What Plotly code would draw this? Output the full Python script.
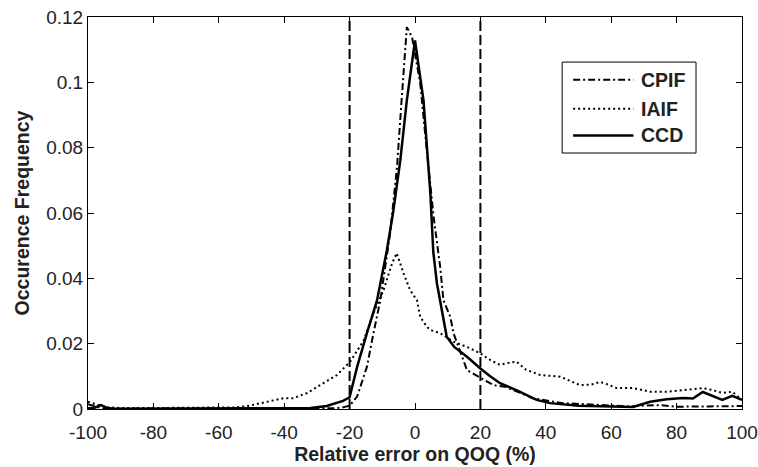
import plotly.graph_objects as go

# Relative error on QOQ (%) and occurrence frequency for each method
ccd_x = [-100, -98, -96, -94, -92, -80, -60, -40, -32, -27, -22, -20, -17.7, -14.7, -11.6, -8.6, -6.6, -4.5,
         -2.5, 0, 2.6, 4.7, 5.6, 6.7, 9.7, 12, 15.9, 19.9, 23, 26, 31, 37.2, 41.3, 50, 60, 66.7, 71.9, 77,
         82, 85, 88, 91, 94, 97, 100]
ccd_y = [0.0002, 0.0004, 0.0012, 0.0003, 0.0001, 0.0001, 0.0001, 0.0001, 0.0003, 0.0009, 0.0025, 0.0036, 0.0129,
         0.0232, 0.0333, 0.0486, 0.0608, 0.0761, 0.0945, 0.1128, 0.0945, 0.0660, 0.0480, 0.0385, 0.0221, 0.0190,
         0.0160, 0.0125, 0.0100, 0.0079, 0.0058, 0.0028, 0.0018, 0.0010, 0.0007, 0.0006, 0.0022, 0.0030,
         0.0034, 0.0032, 0.0052, 0.0040, 0.0028, 0.0040, 0.0028]

cpif_x = [-100, -98, -96, -94, -90, -80, -60, -40, -25, -22, -20, -17.7, -14.7, -12.7, -10.6, -7.6, -5.5, -4.1,
          -2.5, -0.9, 1.6, 3.6, 5.7, 7.7, 8.7, 10.8, 11.8, 15.9, 20, 24, 28, 32, 36, 45, 55, 65, 75, 80,
          90, 100]
cpif_y = [0.0015, 0.0010, 0.0003, 0.0001, 0.0001, 0.0001, 0.0001, 0.0001, 0.0002, 0.0005, 0.0010, 0.0038, 0.0129,
          0.0232, 0.0333, 0.0538, 0.0741, 0.0945, 0.1169, 0.1138, 0.0997, 0.0792, 0.0588, 0.0435, 0.0333, 0.0282,
          0.0231, 0.0119, 0.0095, 0.0073, 0.0067, 0.0050, 0.0033, 0.0018, 0.0012, 0.0008, 0.0012, 0.0007,
          0.0008, 0.0009]

iaif_x = [-100, -98, -96, -94, -90, -80, -70, -60, -55, -51.3, -45.3, -40.2, -37.2, -33, -28, -23.9, -19.8,
          -15.7, -12.7, -9.6, -7, -5.6, -3.5, -1.5, 0.6, 1.6, 3.6, 4.7, 7.7, 8.7, 12, 15.9, 20, 23, 26, 28,
          31, 34, 38.3, 44.4, 50.5, 54, 56.6, 59, 61.7, 66.7, 71.9, 77, 82, 85, 88, 91, 94, 97, 100]
iaif_y = [0.0022, 0.0015, 0.0010, 0.0005, 0.0003, 0.0003, 0.0003, 0.0003, 0.0005, 0.0009, 0.0022, 0.0033, 0.0033,
          0.0049, 0.0079, 0.0104, 0.0145, 0.0210, 0.0293, 0.0364, 0.0446, 0.0477, 0.0415, 0.0364, 0.0333, 0.0282,
          0.0252, 0.0242, 0.0232, 0.0226, 0.0205, 0.0190, 0.0170, 0.0150, 0.0135, 0.0140, 0.0145, 0.0120,
          0.0104, 0.0099, 0.0073, 0.0075, 0.0083, 0.0075, 0.0064, 0.0064, 0.0053, 0.0053, 0.0058, 0.0062,
          0.0064, 0.0058, 0.0049, 0.0053, 0.0028]

# +/-20 % acceptance bounds
bounds_x = [-20, 20]
y_span = [0, 0.12]

x_ticks = [-100, -80, -60, -40, -20, 0, 20, 40, 60, 80, 100]
x_tick_text = ["-100", "-80", "-60", "-40", "-20", "0", "20", "40", "60", "80", "100"]
y_ticks = [0, 0.02, 0.04, 0.06, 0.08, 0.1, 0.12]
y_tick_text = ["0", "0.02", "0.04", "0.06", "0.08", "0.1", "0.12"]

series_names = ["CPIF", "IAIF", "CCD"]
series_x = [cpif_x, iaif_x, ccd_x]
series_y = [cpif_y, iaif_y, ccd_y]
series_dash = ["7px,3px,2px,3px", "2px,3px", "solid"]
series_width = [2, 2, 2.5]

FONT = "Liberation Sans, Arial"
TXT = "#222"

fig = go.Figure()

for bx in bounds_x:
    fig.add_trace(go.Scatter(x=[bx, bx], y=y_span, mode="lines", showlegend=False, hoverinfo="skip",
                             line=dict(color="black", width=2, dash="10px,4px")))

for name, xs, ys, dash, w in zip(series_names, series_x, series_y, series_dash, series_width):
    fig.add_trace(go.Scatter(x=xs, y=ys, mode="lines", name=name, showlegend=False,
                             line=dict(color="black", width=w, dash=dash)))

# Boxed legend in the upper right of the axes (paper coordinates)
box_x0, box_x1, box_y0, box_y1 = 0.725, 0.9297, 0.653, 0.885
row_y = [0.840, 0.766, 0.698]
sample_x0, sample_x1, label_x = 0.7418, 0.834, 0.843
fig.add_shape(type="rect", xref="paper", yref="paper", x0=box_x0, x1=box_x1, y0=box_y0, y1=box_y1,
              line=dict(color="black", width=1), fillcolor="white", layer="above")
for name, ry, dash, w in zip(series_names, row_y, series_dash, series_width):
    fig.add_shape(type="line", xref="paper", yref="paper", x0=sample_x0, x1=sample_x1, y0=ry, y1=ry,
                  line=dict(color="black", width=w, dash=dash), layer="above")
    fig.add_annotation(xref="paper", yref="paper", x=label_x, y=ry, xanchor="left", yanchor="middle",
                       text=name, showarrow=False,
                       font=dict(family=FONT, size=19.5, color=TXT, weight="bold"))

axis_common = dict(showline=True, linecolor="black", linewidth=1, mirror="ticks", ticks="inside",
                   ticklen=6, tickcolor="black", showgrid=False, zeroline=False, automargin=False,
                   tickfont=dict(family=FONT, size=19, color=TXT))

fig.update_layout(
    width=758, height=467,
    margin=dict(l=87.5, r=16, t=17, b=58),
    paper_bgcolor="white", plot_bgcolor="white",
    xaxis=dict(range=[-100, 100], tickvals=x_ticks, ticktext=x_tick_text, ticklabelstandoff=6,
               title=dict(text="Relative error on QOQ (%)", standoff=2,
                          font=dict(family=FONT, size=19.5, color=TXT, weight="bold")),
               **axis_common),
    yaxis=dict(range=[0, 0.12], tickvals=y_ticks, ticktext=y_tick_text,
               title=dict(text="Occurence Frequency", standoff=11,
                          font=dict(family=FONT, size=19.5, color=TXT, weight="bold")),
               **axis_common),
    showlegend=False,
)

fig.write_html("out.html")
